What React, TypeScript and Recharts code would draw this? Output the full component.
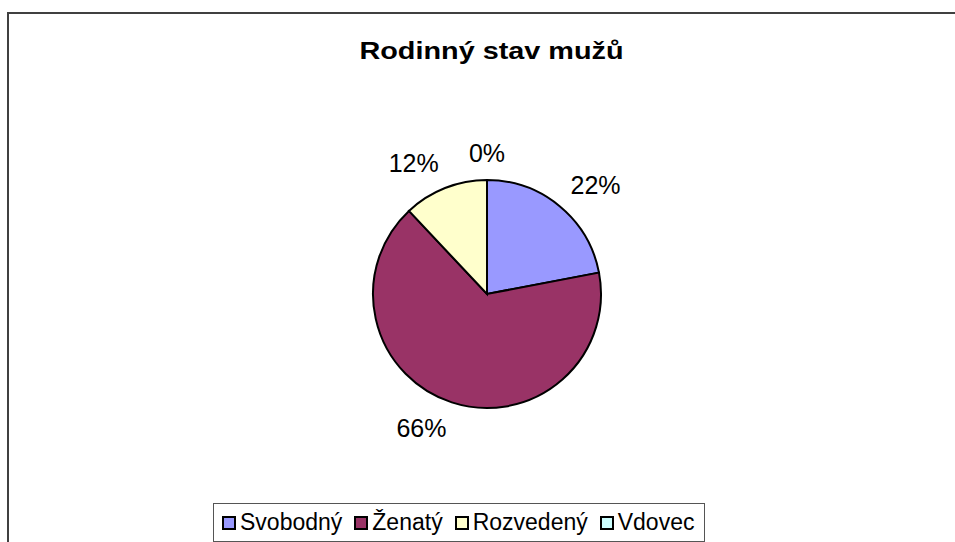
import React from 'react';
import { PieChart, Pie, Cell, Legend } from 'recharts';

const categories = ['Svobodný', 'Ženatý', 'Rozvedený', 'Vdovec'];
const shares = [22, 66, 12, 0];
const colors = ['#9999FF', '#993366', '#FFFFCC', '#CCFFFF'];

const data = categories.map((name, i) => ({ name, value: shares[i] }));

const RADIAN = Math.PI / 180;
const FONT = "Arial, 'Liberation Sans', sans-serif";

const renderLabel = (props: any) => {
  const { cx, cy, midAngle, outerRadius, percent } = props;
  const dx = Math.cos(-midAngle * RADIAN);
  const dy = Math.sin(-midAngle * RADIAN);
  const r = outerRadius + 17;
  const x = cx + dx * r;
  const y = cy + dy * r + dy * 10;
  const anchor = dx > 0.05 ? 'start' : dx < -0.05 ? 'end' : 'middle';
  return (
    <text
      x={x}
      y={y}
      textAnchor={anchor}
      dominantBaseline="central"
      fill="#000"
      fontSize={25}
      fontFamily={FONT}
    >
      {`${Math.round(percent * 100)}%`}
    </text>
  );
};

const LegendBox = () => (
  <div
    style={{
      display: 'flex',
      alignItems: 'center',
      boxSizing: 'border-box',
      height: 39,
      border: '1px solid #555',
      background: '#fff',
      padding: '0 10px 0 8px',
      fontFamily: FONT,
      fontSize: 23,
      color: '#000',
      whiteSpace: 'nowrap',
    }}
  >
    {categories.map((name, i) => (
      <span key={name} style={{ display: 'inline-flex', alignItems: 'center', marginRight: i < categories.length - 1 ? 12 : 0 }}>
        <span
          style={{
            width: 10,
            height: 10,
            border: '2px solid #000',
            background: colors[i],
            marginRight: 4,
            display: 'inline-block',
          }}
        />
        {name}
      </span>
    ))}
  </div>
);

export default function App() {
  return (
    <div style={{ position: 'absolute', left: 0, top: 0, width: 955, height: 542, background: '#fff', overflow: 'hidden' }}>
      <div
        style={{
          position: 'absolute',
          left: 7,
          top: 12,
          width: 1000,
          height: 600,
          borderTop: '2px solid #404040',
          borderLeft: '2px solid #404040',
        }}
      />
      <div
        style={{
          position: 'absolute',
          left: 0,
          width: 983,
          top: 36,
          textAlign: 'center',
          fontFamily: FONT,
          fontWeight: 'bold',
          fontSize: 24,
          lineHeight: '30px',
          color: '#000',
          transform: 'scaleX(1.2)',
          transformOrigin: '491.5px 0',
        }}
      >
        Rodinný stav mužů
      </div>
      <div style={{ position: 'absolute', left: 0, top: 0 }}>
        <PieChart width={955} height={542} margin={{ top: 0, right: 0, bottom: 0, left: 0 }}>
          <Pie
            data={data}
            dataKey="value"
            nameKey="name"
            cx={487}
            cy={294}
            outerRadius={114}
            startAngle={90}
            endAngle={-270}
            stroke="#000"
            strokeWidth={2}
            label={renderLabel}
            labelLine={false}
            isAnimationActive={false}
          >
            {data.map((d, i) => (
              <Cell key={d.name} fill={colors[i]} />
            ))}
          </Pie>
          <Legend
            content={() => <LegendBox />}
            wrapperStyle={{ position: 'absolute', left: 213, top: 503, width: 'auto' }}
          />
        </PieChart>
      </div>
    </div>
  );
}
